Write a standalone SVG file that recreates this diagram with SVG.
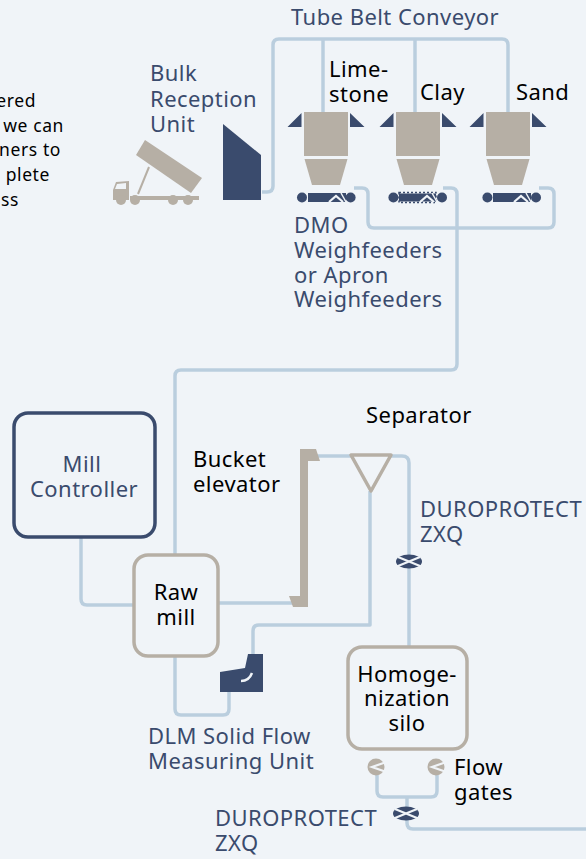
<svg xmlns="http://www.w3.org/2000/svg" width="586" height="859" viewBox="0 0 586 859">
<style>
text{font-family:"Noto Sans","Open Sans",sans-serif;font-size:22px;letter-spacing:.45px}
.k{fill:#000}.b{fill:#3a4b6d}
.t{fill:#b6afa5}.n{fill:#3a4b6d}
.c{fill:none;stroke:#bacede;stroke-width:3.5;stroke-linejoin:round}
.bx{fill:#f0f4f8;stroke-width:3.5}
.small{font-size:17.5px;letter-spacing:.6px}
.w{fill:none;stroke:#f0f4f8}
</style>
<defs>
<g id="silo"><rect class="t" x="-22" y="0" width="44" height="44"/><path class="t" d="M-21.500 47H21.500L14 73H-14Z"/><path class="n" d="M-38.500 15H-24.500V1ZM24 1V15H38.500Z"/></g>
<g id="valve"><ellipse class="n" rx="13" ry="7"/><path class="w" d="M-11-4.500L11 4.500M-11 4.500L11-4.500" stroke-width="2.200"/></g>
<g id="gate"><circle class="t" r="8.500"/><path class="w" d="M9-4.500L-4 0L9 4.500" stroke-width="2.200"/></g>
<g id="wheels"><circle class="n" cx="-24.300" r="5"/><circle class="n" cx="24.300" r="5"/></g>
<g id="chev"><path class="w" d="M0 4.500L7-1.500L14 4.500" stroke-width="2.200"/><path class="w" d="M12-4.500L17 4.500" stroke-width="1.500"/></g>
</defs>
<rect width="586" height="859" fill="#f0f4f8"/>
<g id="connectors">
<path class="c" d="M262 192H267Q273 192 273 186V45Q273 39 279 39H502Q508 39 508 45V112M323 39V112M415 39V112"/>
<path class="c" d="M354 188H362Q368 188 368 194V222Q368 228 374 228H548Q554 228 554 222V194Q554 188 548 188H539"/>
<path class="c" d="M443 188H451Q457 188 457 194V364Q457 370 451 370H181Q175 370 175 376V555"/>
<path class="c" d="M81 537V599Q81 605 87 605H134"/>
<path class="c" d="M218 603H295"/>
<path class="c" d="M316 456H402Q409 456 409 463V647"/>
<path class="c" d="M370 491V625H259Q253 625 253 631V655"/>
<path class="c" d="M175 656V709Q175 715 181 715H223Q229 715 229 709V692"/>
<path class="c" d="M377 775V791Q377 797 383 797H431Q437 797 437 791V775M407 797V823Q407 829 413 829H586"/>
</g>
<g id="bulk-reception-unit"><path class="n" d="M223 124L261 155V200H223Z"/><text class="b" x="150" y="81">Bulk</text><text class="b" x="150" y="107">Reception</text><text class="b" x="150" y="132">Unit</text></g>
<g id="truck">
<path class="t" d="M145 140L202 178L191 193L136 155Z"/>
<path d="M149 167L138 194" stroke="#b6afa5" stroke-width="2" fill="none"/>
<path class="t" fill-rule="evenodd" d="M113 190L116 182L129 181V200H113ZM117 184L115 189H126V183Z"/>
<rect class="t" x="130" y="196" width="69" height="4"/>
<circle class="t" cx="121" cy="200" r="5"/><circle class="t" cx="135" cy="200" r="5"/><circle class="t" cx="173" cy="200" r="5"/><circle class="t" cx="188" cy="200" r="5"/>
</g>
<g id="limestone-silo"><use href="#silo" x="326" y="112"/><text class="k" x="329" y="77">Lime-</text><text class="k" x="329" y="102">stone</text></g>
<g id="clay-silo"><use href="#silo" x="418" y="112"/><text class="k" x="420" y="100">Clay</text></g>
<g id="sand-silo"><use href="#silo" x="508" y="112"/><text class="k" x="516" y="100">Sand</text></g>
<g id="weighfeeders">
<use href="#wheels" x="326.300" y="197.500"/><rect class="n" x="308" y="193" width="38" height="9"/><use href="#chev" x="329" y="197.500"/>
<use href="#wheels" x="417.700" y="197.500"/><rect class="n" x="399" y="193.500" width="37" height="8"/><rect x="399" y="192.500" width="37" height="10" fill="none" stroke="#3a4b6d" stroke-width="1.500" stroke-dasharray="2 2"/><use href="#chev" x="420" y="197.500"/>
<use href="#wheels" x="511.700" y="197.500"/><rect class="n" x="493" y="193" width="38" height="9"/><use href="#chev" x="514" y="197.500"/>
<text class="b" x="294" y="233">DMO</text><text class="b" x="294" y="258">Weighfeeders</text><text class="b" x="294" y="283">or Apron</text><text class="b" x="294" y="307">Weighfeeders</text></g>
<g id="tube-belt-label"><text class="b" x="291" y="25">Tube Belt Conveyor</text></g>
<g id="mill-controller"><rect x="14" y="413" width="141" height="124" rx="14" fill="none" stroke="#3a4b6d" stroke-width="3.500"/><text class="b" x="82" y="472" text-anchor="middle">Mill</text><text class="b" x="84" y="497" text-anchor="middle">Controller</text></g>
<g id="raw-mill"><rect class="bx" x="134" y="555" width="84" height="101" rx="14" stroke="#b6afa5"/><text class="k" x="176" y="600" text-anchor="middle">Raw</text><text class="k" x="176" y="625" text-anchor="middle">mill</text></g>
<g id="bucket-elevator"><path class="t" d="M300 449H316L320 461H308V607H293L289 596H300Z"/><text class="k" x="193" y="467">Bucket</text><text class="k" x="193" y="492">elevator</text></g>
<g id="separator"><path d="M351 455H391L371 491Z" fill="#f0f4f8" stroke="#b6afa5" stroke-width="3.500" stroke-linejoin="round"/><text class="k" x="366" y="423">Separator</text></g>
<g id="duroprotect-1"><use href="#valve" x="409" y="561.500"/><text class="b" x="420" y="517">DUROPROTECT</text><text class="b" x="420" y="542">ZXQ</text></g>
<g id="dlm"><path class="n" d="M220 672L245 668L248 654H263V692H220Z"/><path class="w" d="M241 681Q249 681 252 673" stroke-width="2.500"/><text class="b" x="148" y="744">DLM Solid Flow</text><text class="b" x="148" y="769">Measuring Unit</text></g>
<g id="homogenization-silo"><rect class="bx" x="348" y="647" width="119" height="102" rx="14" stroke="#b6afa5"/><text class="k" x="407" y="682" text-anchor="middle">Homoge-</text><text class="k" x="407" y="706" text-anchor="middle">nization</text><text class="k" x="407" y="731" text-anchor="middle">silo</text></g>
<g id="flow-gates"><use href="#gate" x="376" y="767"/><use href="#gate" x="436" y="767"/><text class="k" x="454" y="775">Flow</text><text class="k" x="454" y="800">gates</text></g>
<g id="duroprotect-2"><use href="#valve" x="406" y="813.500"/><text class="b" x="215" y="826">DUROPROTECT</text><text class="b" x="215" y="851">ZXQ</text></g>
<g id="cropped-note"><text class="k small" x="36" y="107" text-anchor="end">ered</text><text class="k small" x="64" y="132" text-anchor="end">we can</text><text class="k small" x="61" y="156" text-anchor="end">ners to</text><text class="k small" x="50" y="181" text-anchor="end">plete</text><text class="k small" x="19" y="206" text-anchor="end">ss</text></g>
</svg>
